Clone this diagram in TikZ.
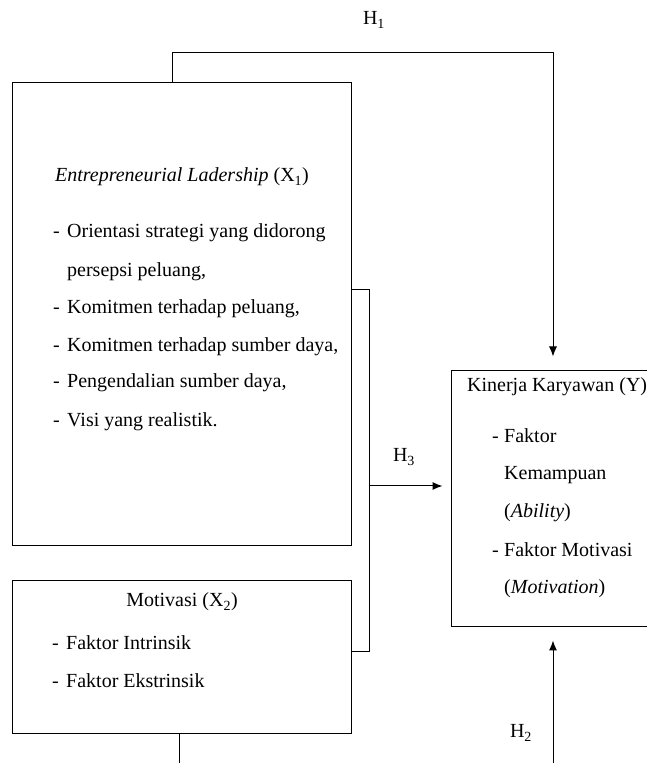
\documentclass[tikz,border=0pt]{standalone}
\usepackage{fontspec}
\setmainfont{Liberation Serif}
\usetikzlibrary{arrows.meta}
\begin{document}
\begin{tikzpicture}[x=1pt,y=1pt,
    box/.style={draw, line width=1pt, inner sep=0pt},
    txt/.style={font=\fontsize{20}{24}\selectfont, inner sep=0pt, text height=14pt, text depth=4pt, anchor=west},
    arr/.style={-{Latex[length=10pt,width=8pt]}, line width=1pt}]
      \useasboundingbox (0,0) rectangle (646,763);
      \node[box, minimum width=339pt, minimum height=463pt] (X1) at (181.5,448.5) {};
      \node[box, minimum width=339pt, minimum height=153pt] (X2) at (181.5,105.5) {};
      \node[box, minimum width=200pt, minimum height=256pt] (Y) at (551,264) {};
      \node[txt, anchor=center] (x1t) at (182,586) {\textit{Entrepreneurial Ladership} (X\textsubscript{1})};
      \foreach \i/\yy in {1/530,2/454,3/416,4/380,5/341}
        \node[txt] (x1d\i) at (53,\yy) {-};
      \foreach \i/\yy/\t in {1/530/{Orientasi strategi yang didorong},2/491/{persepsi peluang,},
          3/454/{Komitmen terhadap peluang,},4/416/{Komitmen terhadap sumber daya,},
          5/380/{Pengendalian sumber daya,},6/341/{Visi yang realistik.}}
        \node[txt] (x1i\i) at (67,\yy) {\t};
      \node[txt, anchor=center] (x2t) at (182,161) {Motivasi (X\textsubscript{2})};
      \node[txt] (x2d1) at (52,118) {-};
      \node[txt] (x2i1) at (66,118) {Faktor Intrinsik};
      \node[txt] (x2d2) at (52,80) {-};
      \node[txt] (x2i2) at (66,80) {Faktor Ekstrinsik};
      \node[txt] (yt) at (467,376) {Kinerja Karyawan (Y)};
      \node[txt] (yd1) at (492,325) {-};
      \node[txt] (yi1) at (504,325) {Faktor};
      \node[txt] (yi2) at (504,288) {Kemampuan};
      \node[txt] (yi3) at (504,250) {(\textit{Ability})};
      \node[txt] (yd2) at (492,211) {-};
      \node[txt] (yi4) at (504,211) {Faktor Motivasi};
      \node[txt] (yi5) at (504,174) {(\textit{Motivation})};
      \coordinate (h1a) at (172,710);
      \coordinate (h1b) at (553,710);
      \draw[arr, shorten >=14pt] (X1.north -| h1a) -- (h1a) -- (h1b) -- (Y.north -| h1b);
      \coordinate (b1) at (369,473);
      \coordinate (b2) at (369,111);
      \coordinate (b3) at (369,277);
      \draw[line width=1pt] (X1.east |- b1) -- (b1) -- (b2) -- (X2.east |- b2);
      \draw[arr, shorten >=8pt] (b3) -- (Y.west |- b3);
      \coordinate (h2s) at (553,0);
      \draw[arr, shorten >=13pt] (h2s) -- (Y.south -| h2s);
      \coordinate (x2s) at (179,0);
      \draw[line width=1pt] (X2.south -| x2s) -- (x2s);
      \node[txt, anchor=center] (h1) at (374,743) {H\textsubscript{1}};
      \node[txt, anchor=center] (h3) at (404,306) {H\textsubscript{3}};
      \node[txt, anchor=center] (h2) at (521,30) {H\textsubscript{2}};
\end{tikzpicture}
\end{document}
